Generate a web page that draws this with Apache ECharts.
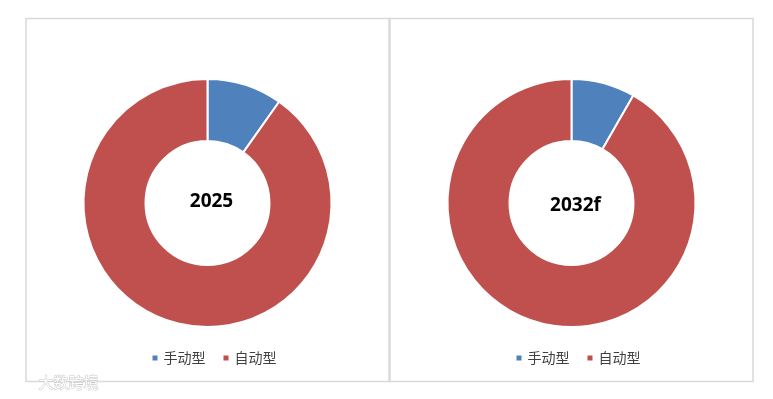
<!DOCTYPE html>
<html>
<head>
<meta charset="utf-8">
<script src="https://cdn.jsdelivr.net/npm/echarts@6/dist/echarts.min.js"></script>
<style>
  html, body { margin: 0; padding: 0; background: #fff; }
  #chart { width: 773px; height: 399px; }
</style>
</head>
<body>
<div id="chart"></div>
<script>
  // 两个年份的手动型 / 自动型占比
  const types = ['手动型', '自动型']
  const years = ['2025', '2032f']
  const share2025 = [9.8, 90.2]
  const share2032 = [8.3, 91.7]
  const colors = ['#4F81BD', '#C0504D']

  const chart = echarts.init(document.getElementById('chart'))

  const panels = [
    { x: 26, cx: 207.5, values: share2025, year: years[0], labelTop: 187 },
    { x: 390, cx: 571.5, values: share2032, year: years[1], labelTop: 191 },
  ]

  const toData = (values) => types.map((name, i) => ({ name: name, value: values[i] }))

  chart.setOption({
    color: colors,
    animation: false,
    title: panels.map((p) => ({
      text: p.year,
      left: p.cx - 1,
      top: p.labelTop,
      textAlign: 'center',
      textStyle: { fontSize: 19, fontWeight: 'bold', color: '#000', fontFamily: 'Open Sans' },
    })),
    legend: panels.map((p) => ({
      data: types,
      left: p.cx - 62,
      top: 346,
      icon: 'rect',
      itemWidth: 7,
      itemHeight: 7,
      itemGap: 16,
      textStyle: { fontSize: 14, color: '#404040', fontFamily: 'Noto Sans CJK SC' },
    })),
    graphic: [
      ...panels.map((p) => ({
        type: 'rect',
        shape: { x: p.x, y: 18.5, width: 363, height: 363 },
        style: { fill: 'none', stroke: '#d9d9d9', lineWidth: 1.5 },
        z: -1,
      })),
      {
        type: 'text',
        left: 38,
        top: 374,
        style: {
          text: '大数跨境',
          fontSize: 15,
          fontFamily: 'Noto Sans CJK SC',
          fill: '#fff',
          stroke: '#c8c8c8',
          lineWidth: 1,
        },
      },
    ],
    series: panels.map((p) => ({
      type: 'pie',
      center: [p.cx, 203],
      radius: [62, 124],
      startAngle: 90,
      label: { show: false },
      labelLine: { show: false },
      emphasis: { disabled: true },
      itemStyle: { borderColor: '#fff', borderWidth: 2 },
      data: toData(p.values),
    })),
  })
</script>
</body>
</html>
